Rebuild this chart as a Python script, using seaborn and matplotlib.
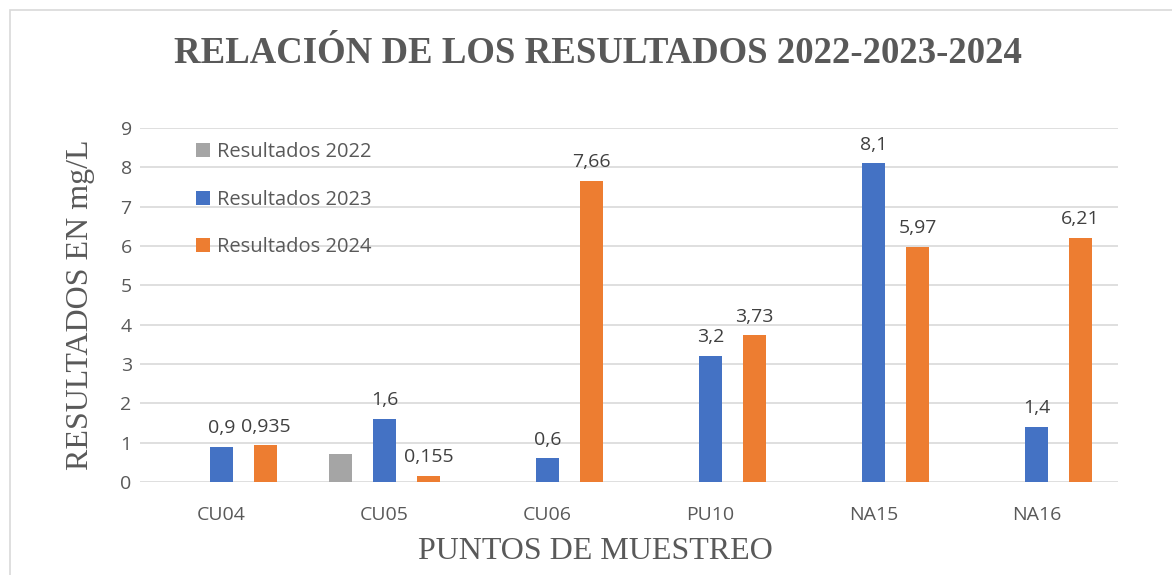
import pandas as pd
import numpy as np
import seaborn as sns
import matplotlib.pyplot as plt
from matplotlib.patches import Rectangle

# data
puntos = ['CU04', 'CU05', 'CU06', 'PU10', 'NA15', 'NA16']
res_2022 = [0, 0.7, 0, 0, 0, 0]
res_2023 = [0.9, 1.6, 0.6, 3.2, 8.1, 1.4]
res_2024 = [0.935, 0.155, 7.66, 3.73, 5.97, 6.21]
series = ['Resultados 2022', 'Resultados 2023', 'Resultados 2024']
colores = ['#A5A5A5', '#4472C4', '#ED7D31']
show_labels = [False, True, True]

df = pd.DataFrame({'punto': puntos * 3,
                   'valor': res_2022 + res_2023 + res_2024,
                   'serie': np.repeat(series, len(puntos))})

sns.set_style('white')
plt.rcParams['font.family'] = ['Open Sans', 'DejaVu Sans']

fig = plt.figure(figsize=(11.72, 5.75), dpi=100)
ax = fig.add_axes([0.1195, 0.1617, 0.8345, 0.6157])

sns.barplot(data=df, x='punto', y='valor', hue='serie', palette=colores,
            width=0.81, gap=0.48, ax=ax, linewidth=0, saturation=1)

# data labels, comma decimal like the original
for cont, vals, show in zip(ax.containers, [res_2022, res_2023, res_2024], show_labels):
    if show:
        labs = [str(v).replace('.', ',') if v else '' for v in vals]
    else:
        labs = ['' for v in vals]
    ax.bar_label(cont, labels=labs, padding=7, fontsize=14, color='#404040')

ax.set_ylim(0, 9)
ax.set_yticks(range(10))
ax.set_xlim(-0.5, 5.5)
ax.grid(axis='y', color='#D9D9D9', linewidth=1.2)
ax.set_axisbelow(True)
sns.despine(ax=ax, left=True, bottom=True, top=True, right=True)
ax.tick_params(axis='both', length=0, labelsize=14, labelcolor='#595959')
ax.tick_params(axis='x', pad=17)
ax.tick_params(axis='y', pad=6)

ax.set_xlabel('PUNTOS DE MUESTREO', family='Liberation Serif', fontsize=23, color='#595959')
ax.xaxis.set_label_coords(0.508, 0.066, transform=fig.transFigure)
ax.set_ylabel('RESULTADOS EN mg/L', family='Liberation Serif', fontsize=23, color='#595959')
ax.yaxis.set_label_coords(0.081, 0.47, transform=fig.transFigure)

leg = ax.legend(loc='upper left', bbox_to_anchor=(0.039, 1.012), frameon=False,
                fontsize=14.5, handlelength=0.7, handleheight=0.7,
                handletextpad=0.35, labelspacing=1.38)
for t in leg.get_texts():
    t.set_color('#595959')

fig.text(0.51, 0.907, 'RELACIÓN DE LOS RESULTADOS 2022-2023-2024', ha='center', va='center',
         family='Liberation Serif', fontweight='bold', fontsize=26.5, color='#595959')

fig.patches.append(Rectangle((10 / 1172, -0.01), 1.0, 1 - 10 / 575 + 0.01,
                             transform=fig.transFigure, fill=False,
                             edgecolor='#D9D9D9', linewidth=1.2))

fig.savefig('out.png', dpi=100)
